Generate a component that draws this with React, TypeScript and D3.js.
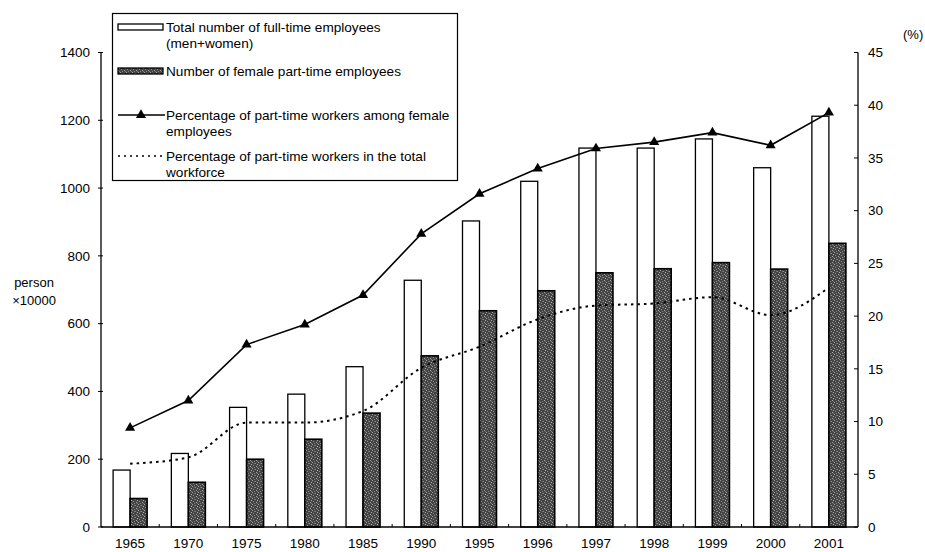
import * as d3 from "d3";

// ---------------------------------------------------------------------------
// Data
// ---------------------------------------------------------------------------

const YEARS = [
  "1965", "1970", "1975", "1980", "1985", "1990", "1995",
  "1996", "1997", "1998", "1999", "2000", "2001",
];
// person x10000
const FULL_TIME = [168, 217, 353, 392, 473, 728, 903, 1020, 1118, 1118, 1145, 1060, 1212];
const FEMALE_PART = [84, 132, 200, 259, 336, 505, 638, 697, 750, 762, 780, 761, 837];
// %
const FEMALE_PCT = [9.4, 12.0, 17.3, 19.2, 22.0, 27.8, 31.6, 34.0, 35.9, 36.5, 37.4, 36.2, 39.3];
const TOTAL_PCT = [6.0, 6.6, 9.9, 9.9, 11.0, 15.1, 17.1, 19.7, 21.0, 21.2, 21.8, 20.1, 22.7];

const LEFT_TICKS = [0, 200, 400, 600, 800, 1000, 1200, 1400];
const RIGHT_TICKS = [0, 5, 10, 15, 20, 25, 30, 35, 40, 45];

const LEGEND = [
  { kind: "white", lines: ["Total number of full-time employees", "(men+women)"] },
  { kind: "dark", lines: ["Number of female part-time employees"] },
  { kind: "solid", lines: ["Percentage of part-time workers among female", "employees"] },
  { kind: "dotted", lines: ["Percentage of part-time workers in the total", "workforce"] },
];

// ---------------------------------------------------------------------------
// Layout
// ---------------------------------------------------------------------------

const W = 925;
const H = 552;
const X0 = 101;
const X1 = 858;
const Y0 = 527;
const Y1 = 52.5;
const FONT = "'Liberation Sans', Arial, sans-serif";
const BAR_W = 17;
const TICK_FS = 13.5;
const LEGEND_FS = 13.6;

// speckle positions inside one 6x6 pattern tile (texture of the dark bars)
const SPECKLES = [
  [0, 0, "#a0a0a0"], [3, 1, "#8c8c8c"], [5, 2, "#b0b0b0"], [1, 3, "#909090"],
  [4, 4, "#a8a8a8"], [2, 5, "#858585"], [5, 5, "#7a7a7a"], [2, 1, "#6e6e6e"],
] as const;

export default function App() {
  const x = d3.scaleBand<string>().domain(YEARS).range([X0, X1]).paddingInner(0).paddingOuter(0);
  const yL = d3.scaleLinear().domain([0, 1400]).range([Y0, Y1]);
  const yR = d3.scaleLinear().domain([0, 45]).range([Y0, Y1]);
  const cx = (i: number) => (x(YEARS[i]) ?? 0) + x.bandwidth() / 2;

  const solidLine = d3
    .line<number>()
    .x((_, i) => cx(i))
    .y((d) => yR(d));
  const dottedLine = d3
    .line<number>()
    .x((_, i) => cx(i))
    .y((d) => yR(d))
    .curve(d3.curveMonotoneX);

  const tri = d3.symbol().type(d3.symbolTriangle).size(44)();

  const legendY = [28, 72, 116, 157];

  return (
    <svg
      width={W}
      height={H}
      style={{ position: "fixed", left: 0, top: 0, background: "#fff" }}
      fontFamily={FONT}
    >
      <defs>
        <pattern id="stipple" width="6" height="6" patternUnits="userSpaceOnUse">
          <rect width="6" height="6" fill="#444" />
          {SPECKLES.map(([px, py, c], k) => (
            <rect key={k} x={px} y={py} width={1} height={1} fill={c} />
          ))}
        </pattern>
      </defs>

      {/* Bars */}
      {YEARS.map((yr, i) => (
        <g key={yr}>
          <rect
            x={cx(i) - BAR_W}
            y={yL(FULL_TIME[i])}
            width={BAR_W}
            height={Y0 - yL(FULL_TIME[i])}
            fill="#fff"
            stroke="#000"
            strokeWidth={1.3}
          />
          <rect
            x={cx(i)}
            y={yL(FEMALE_PART[i])}
            width={BAR_W}
            height={Y0 - yL(FEMALE_PART[i])}
            fill="url(#stipple)"
            stroke="#000"
            strokeWidth={1.6}
          />
        </g>
      ))}

      {/* Lines */}
      <path d={dottedLine(TOTAL_PCT) ?? ""} fill="none" stroke="#000" strokeWidth={2} strokeDasharray="2.5 4" />
      <path d={solidLine(FEMALE_PCT) ?? ""} fill="none" stroke="#000" strokeWidth={1.6} />
      {FEMALE_PCT.map((v, i) => (
        <path key={i} d={tri ?? ""} transform={`translate(${cx(i)},${yR(v)})`} fill="#000" />
      ))}

      {/* Axes */}
      <line x1={X0} y1={Y1} x2={X0} y2={Y0} stroke="#000" strokeWidth={1.3} />
      <line x1={X1} y1={Y1} x2={X1} y2={Y0} stroke="#000" strokeWidth={1.3} />
      <line x1={X0} y1={Y0} x2={X1} y2={Y0} stroke="#000" strokeWidth={1.3} />

      {LEFT_TICKS.map((t) => (
        <g key={`l${t}`}>
          <line x1={X0 - 3} x2={X0 + 2} y1={yL(t)} y2={yL(t)} stroke="#000" strokeWidth={1} />
          <text x={X0 - 11} y={yL(t)} dy="0.35em" textAnchor="end" fontSize={TICK_FS} fill="#000">
            {t}
          </text>
        </g>
      ))}

      {RIGHT_TICKS.map((t) => (
        <g key={`r${t}`}>
          <line x1={X1 - 4} x2={X1} y1={yR(t)} y2={yR(t)} stroke="#000" strokeWidth={1} />
          <text x={X1 + 10} y={yR(t)} dy="0.35em" textAnchor="start" fontSize={TICK_FS} fill="#000">
            {t}
          </text>
        </g>
      ))}

      {YEARS.map((yr, i) => (
        <g key={`x${yr}`}>
          {i > 0 && (
            <line
              x1={x(yr) ?? 0}
              x2={x(yr) ?? 0}
              y1={Y0}
              y2={Y0 - 3}
              stroke="#000"
              strokeWidth={1}
            />
          )}
          <text x={cx(i)} y={Y0 + 16} dy="0.35em" textAnchor="middle" fontSize={TICK_FS} fill="#000">
            {yr}
          </text>
        </g>
      ))}

      {/* Axis titles */}
      <text x={34} y={287} textAnchor="middle" fontSize={13} fill="#000">person</text>
      <text x={34} y={305} textAnchor="middle" fontSize={13} fill="#000">×10000</text>
      <text x={903} y={39} fontSize={13} fill="#000">(%)</text>

      {/* Legend */}
      <rect x={112.5} y={13.5} width={345} height={167} fill="#fff" stroke="#000" strokeWidth={1.2} />
      {LEGEND.map((item, k) => {
        const ly = legendY[k];
        return (
          <g key={item.kind}>
            {item.kind === "white" && (
              <rect x={118} y={ly - 4} width={45} height={6} fill="#fff" stroke="#000" strokeWidth={1.3} />
            )}
            {item.kind === "dark" && (
              <rect x={118} y={ly - 4} width={45} height={6} fill="url(#stipple)" stroke="#000" strokeWidth={1.3} />
            )}
            {item.kind === "solid" && (
              <g>
                <line x1={118} x2={165} y1={ly - 1} y2={ly - 1} stroke="#000" strokeWidth={1.4} />
                <path d={tri ?? ""} transform={`translate(141,${ly - 1})`} fill="#000" />
              </g>
            )}
            {item.kind === "dotted" && (
              <line
                x1={118}
                x2={165}
                y1={ly - 1}
                y2={ly - 1}
                stroke="#000"
                strokeWidth={1.6}
                strokeDasharray="2 4"
              />
            )}
            {item.lines.map((t, j) => (
              <text key={j} x={166} y={ly + 3.5 + j * 16} fontSize={LEGEND_FS} fill="#000">
                {t}
              </text>
            ))}
          </g>
        );
      })}
    </svg>
  );
}
